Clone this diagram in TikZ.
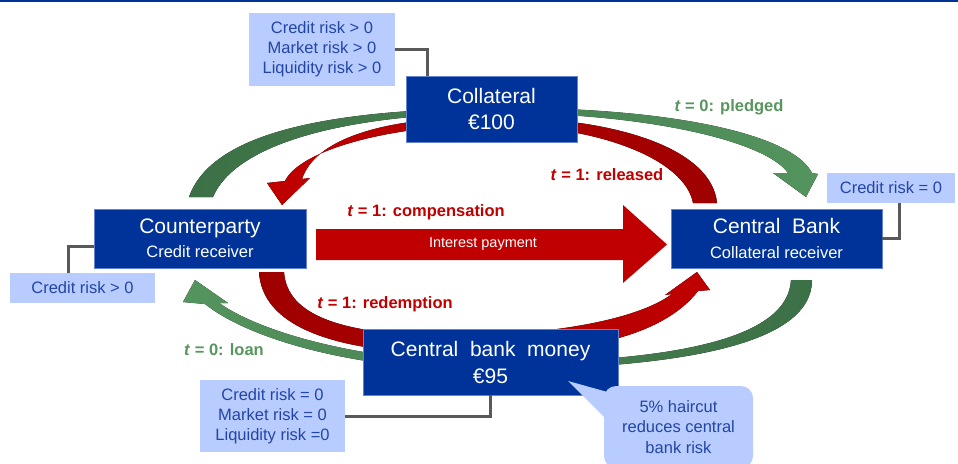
\documentclass[tikz,border=0pt]{standalone}
\usepackage{fontspec}
\setmainfont{Liberation Sans}
\definecolor{boxblue}{RGB}{0,51,153}
\definecolor{boxedge}{RGB}{100,130,205}
\definecolor{lightfill}{RGB}{184,204,255}
\definecolor{lighttext}{RGB}{35,70,165}
\definecolor{arrred}{RGB}{192,0,0}
\definecolor{arrreddark}{RGB}{158,0,0}
\definecolor{arrgreen}{RGB}{84,148,94}
\definecolor{arrgreendark}{RGB}{60,112,70}
\definecolor{labgreen}{RGB}{88,150,95}
\definecolor{conngray}{RGB}{89,89,89}
\begin{document}
\begin{tikzpicture}[x=1pt,y=-1pt,
  darkbox/.style={fill=boxblue, draw=boxedge, line width=0.7pt, text=white, align=center, inner sep=0pt},
  lightbox/.style={fill=lightfill, text=lighttext, align=center, inner sep=0pt, font=\fontsize{16.5}{20}\selectfont},
  conn/.style={draw=conngray, line width=3pt},
  lab/.style={font=\bfseries\fontsize{16.5}{20}\selectfont, inner sep=0pt},
]
\clip (0,0) rectangle (958,463);
\fill[white] (0,0) rectangle (958,463);
\fill[boxblue] (0,0) rectangle (958,2);

% green: t=0 pledged (tail at counterparty, head at central bank)
\fill[left color=arrgreendark, right color=arrgreen]
  (189,197) .. controls (212,132) and (330,110) .. (490,108)
  .. controls (650,106) and (790,130) .. (812,173)
  -- (818,174) -- (806,197) -- (773,173) -- (788,173)
  .. controls (765,140) and (640,112) .. (490,113)
  .. controls (340,115) and (235,145) .. (213,197) -- cycle;

% red: t=1 released (tail at central bank, head at counterparty)
\fill[left color=arrred, right color=arrreddark]
  (693,203) -- (717,203)
  .. controls (712,150) and (620,117) .. (490,117)
  .. controls (380,117) and (315,140) .. (302,179)
  -- (310,178) -- (282,205) -- (267,183) -- (285,181)
  .. controls (300,150) and (390,125) .. (490,125)
  .. controls (600,125) and (685,160) .. (693,203) -- cycle;

% red: t=1 redemption (tail at counterparty, head at central bank)
\fill[left color=arrreddark, right color=arrred]
  (259,272) .. controls (262,325) and (330,352) .. (450,354)
  .. controls (570,356) and (660,340) .. (698,291)
  -- (710,290) -- (697,272) -- (665,295) -- (672,294)
  .. controls (640,318) and (560,335) .. (450,336)
  .. controls (340,335) and (287,315) .. (284,272) -- cycle;

% green: t=0 loan (tail at central bank, head at counterparty)
\fill[left color=arrgreen, right color=arrgreendark]
  (791,280) -- (812,280)
  .. controls (812,340) and (700,368) .. (490,370)
  .. controls (360,371) and (250,340) .. (205,304)
  -- (183,302) -- (195,280) -- (228,303) -- (219,303)
  .. controls (265,335) and (370,362) .. (490,363)
  .. controls (690,362) and (788,335) .. (791,280) -- cycle;

% horizontal block arrow
\fill[arrred] (316,229) -- (623,229) -- (623,205) -- (667,244.5) -- (623,283) -- (623,260) -- (316,260) -- cycle;
\node[text=white, font=\fontsize{14.5}{17}\selectfont, inner sep=0pt] (ip) at (483,244.5) {Interest payment};

% main boxes
\node[darkbox, minimum width=171pt, minimum height=66pt, font=\fontsize{21}{26}\selectfont] (coll) at (491.5,109) {Collateral\\€100};
\node[darkbox, minimum width=212pt, minimum height=59pt, font=\fontsize{16.5}{24}\selectfont] (cp) at (200,238.5) {{\fontsize{21}{24}\selectfont Counterparty}\\Credit receiver};
\node[darkbox, minimum width=211pt, minimum height=59pt, font=\fontsize{16.5}{25}\selectfont] (cb) at (776.5,238.5) {{\fontsize{21}{25}\selectfont Central\ \ Bank}\\Collateral receiver};
\node[darkbox, minimum width=255pt, minimum height=66pt, font=\fontsize{21}{27}\selectfont] (money) at (490.5,362) {Central\ \ bank\ \ money\\€95};

% risk boxes
\node[lightbox, minimum width=146pt, minimum height=73pt] (rtl) at (322,49.5) {Credit risk > 0\\Market risk > 0\\Liquidity risk > 0};
\node[lightbox, minimum width=128pt, minimum height=30pt] (rr) at (891,188) {Credit risk = 0};
\node[lightbox, minimum width=145pt, minimum height=30pt] (lr) at (82.5,288) {Credit risk > 0};
\node[lightbox, minimum width=145pt, minimum height=72pt] (lb) at (272.5,416) {Credit risk = 0\\Market risk = 0\\Liquidity risk =0};

% connectors
\begin{scope}[on background layer/.style={}]
\draw[conn] (rtl.east) -| ([xshift=22pt]coll.north west);
\draw[conn] (cb.east) -| ([xshift=73pt]rr.south west);
\draw[conn] ([xshift=59pt]lr.north west) |- ([yshift=-7.5pt]cp.west);
\draw[conn] (lb.east) -| ([xshift=128pt]money.south west);
\end{scope}

% labels
\node[lab, text=labgreen] (lpl) at (729,107) {\textit{t} = 0: pledged};
\node[lab, text=arrred] (lrel) at (607,175) {\textit{t} = 1: released};
\node[lab, text=arrred] (lcomp) at (426,212) {\textit{t} = 1: compensation};
\node[lab, text=arrred] (lred) at (385,304) {\textit{t} = 1: redemption};
\node[lab, text=labgreen] (lloan) at (224,350) {\textit{t} = 0: loan};

% callout
\node[lightbox, rounded corners=12pt, minimum width=149pt, minimum height=82pt, font=\fontsize{16.5}{20.5}\selectfont] (hc) at (678.5,427) {5\% haircut\\reduces central\\bank risk};
\coordinate (hctip) at (568,381);
\fill[lightfill] (hctip) -- ([xshift=3pt,yshift=-6pt]hc.north west) -- ([xshift=3pt,yshift=-34pt]hc.north west) -- cycle;
\end{tikzpicture}
\end{document}
